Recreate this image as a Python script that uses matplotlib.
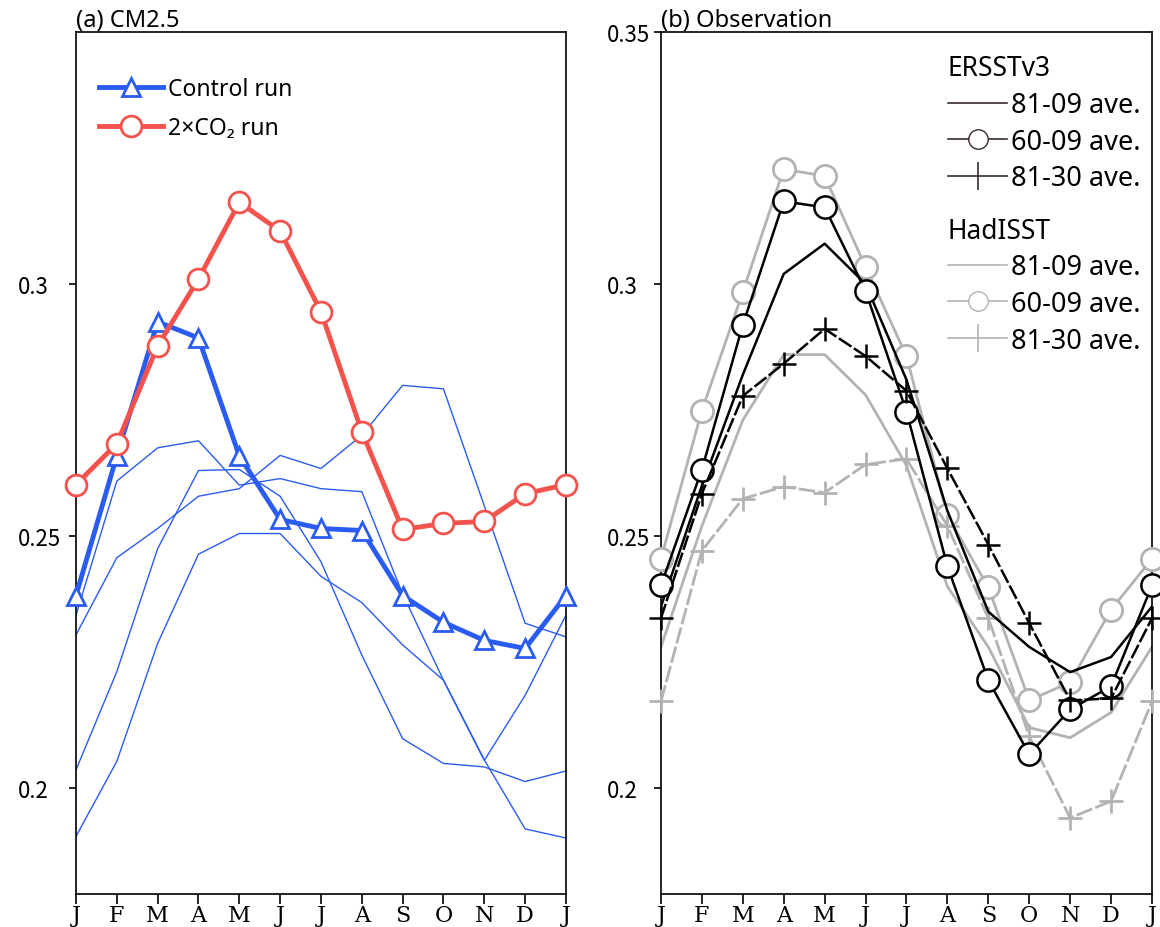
import numpy as np
import matplotlib
matplotlib.use("Agg")
import matplotlib.pyplot as plt
from matplotlib.lines import Line2D

# ---- data -------------------------------------------------------------
months = ["J", "F", "M", "A", "M", "J", "J", "A", "S", "O", "N", "D", "J"]

# (a) CM2.5
control_run = [0.2382, 0.2659, 0.2925, 0.2893, 0.2659, 0.2533, 0.2515, 0.2511,
               0.2382, 0.2329, 0.2293, 0.2277, 0.2382]
co2_run = [0.2602, 0.2683, 0.2877, 0.3010, 0.3162, 0.3105, 0.2945, 0.2707,
           0.2513, 0.2525, 0.2529, 0.2584, 0.2602]
member_1 = [0.2343, 0.2609, 0.2675, 0.2689, 0.2601, 0.2614, 0.2594, 0.2588,
            0.2385, 0.2214, 0.2055, 0.2184, 0.2343]
member_2 = [0.2304, 0.2457, 0.2515, 0.2579, 0.2594, 0.2660, 0.2634, 0.2700,
            0.2799, 0.2792, 0.2560, 0.2327, 0.2300]
member_3 = [0.2036, 0.2231, 0.2475, 0.2630, 0.2632, 0.2579, 0.2449, 0.2264,
            0.2098, 0.2049, 0.2042, 0.2013, 0.2034]
member_4 = [0.1904, 0.2053, 0.2287, 0.2464, 0.2505, 0.2505, 0.2420, 0.2368,
            0.2284, 0.2214, 0.2056, 0.1919, 0.1901]

# (b) Observation
ersst_8109 = [0.236, 0.260, 0.282, 0.302, 0.308, 0.300, 0.281, 0.255,
              0.235, 0.228, 0.223, 0.226, 0.236]
ersst_6009 = [0.2402, 0.2632, 0.2919, 0.3164, 0.3152, 0.2986, 0.2747, 0.2440,
              0.2214, 0.2067, 0.2156, 0.2202, 0.2402]
ersst_8130 = [0.2337, 0.2584, 0.2778, 0.2842, 0.2911, 0.2857, 0.2788, 0.2634,
              0.2483, 0.2327, 0.2174, 0.2178, 0.2337]
had_8109 = [0.228, 0.252, 0.273, 0.286, 0.286, 0.278, 0.264, 0.240,
            0.228, 0.212, 0.210, 0.215, 0.228]
had_6009 = [0.2455, 0.2749, 0.2984, 0.3228, 0.3214, 0.3034, 0.2857, 0.2541,
            0.2398, 0.2174, 0.2210, 0.2354, 0.2455]
had_8130 = [0.2172, 0.2471, 0.2574, 0.2598, 0.2586, 0.2642, 0.2653, 0.2520,
            0.2337, 0.2103, 0.1941, 0.1974, 0.2172]

# ---- style ------------------------------------------------------------
plt.rcParams['font.family'] = ['Noto Sans', 'DejaVu Sans']
BLUE = '#2b5cf2'
RED = '#f4524c'
GRAY = '#b3b3b3'
DARK = '#3a2a2a'
x = np.arange(len(months))

fig = plt.figure(figsize=(11.6, 9.28), dpi=100)
ax1 = fig.add_axes([0.0655, 0.0356, 0.4224, 0.9289])
ax2 = fig.add_axes([0.5698, 0.0356, 0.4233, 0.9289])

# ---- (a) ----------------------------------------------------------------
for m in [member_1, member_2, member_3, member_4]:
    ax1.plot(x, m, color=BLUE, lw=1.0, zorder=2)
ax1.plot(x, control_run, color=BLUE, lw=3.5, marker='^', ms=13, mfc='white',
         mec=BLUE, mew=2, label='Control run', zorder=4, clip_on=False)
ax1.plot(x, co2_run, color=RED, lw=3.5, marker='o', ms=15, mfc='white',
         mec=RED, mew=2, label='2×CO₂ run', zorder=5, clip_on=False)
ax1.legend(loc='upper left', bbox_to_anchor=(0.005, 0.972), frameon=False,
           fontsize=16.5, handlelength=2.8, handletextpad=0.2, labelspacing=0.65)
ax1.set_title('(a) CM2.5', loc='left', fontsize=17, pad=2)

# ---- (b) ----------------------------------------------------------------
dash = (0, (6, 1.2))
ax2.plot(x, had_8109, color=GRAY, lw=2.0, zorder=2)
ax2.plot(x, had_6009, color=GRAY, lw=2.0, marker='o', ms=16, mfc='white',
         mec=GRAY, mew=2, zorder=3, clip_on=False)
ax2.plot(x, had_8130, color=GRAY, lw=2.0, ls=dash, marker='+', ms=17, mew=2,
         zorder=3, clip_on=False)
ax2.plot(x, ersst_8109, color='black', lw=1.8, zorder=4)
ax2.plot(x, ersst_6009, color='black', lw=1.8, marker='o', ms=16, mfc='white',
         mec='black', mew=1.8, zorder=5, clip_on=False)
ax2.plot(x, ersst_8130, color='black', lw=1.8, ls=dash, marker='+', ms=17,
         mew=1.8, zorder=5, clip_on=False)

ersst_handles = [Line2D([], [], color=DARK, lw=1.2),
                 Line2D([], [], color=DARK, lw=1.2, marker='o', ms=14, mfc='white', mec=DARK),
                 Line2D([], [], color=DARK, lw=1.2, marker='|', ms=20, mew=1.2)]
had_handles = [Line2D([], [], color=GRAY, lw=1.2),
               Line2D([], [], color=GRAY, lw=1.2, marker='o', ms=14, mfc='white', mec=GRAY),
               Line2D([], [], color=GRAY, lw=1.2, marker='|', ms=20, mew=1.2)]
labels = ['81-09 ave.', '60-09 ave.', '81-30 ave.']
legend_kw = dict(loc='upper left', frameon=False, fontsize=19.5,
                 title_fontsize=19, handlelength=2.2, handletextpad=0.15,
                 labelspacing=0.32, alignment='left', borderpad=0.3)
leg1 = ax2.legend(ersst_handles, labels, title='ERSSTv3',
                  bbox_to_anchor=(0.54, 0.999), **legend_kw)
ax2.add_artist(leg1)
ax2.legend(had_handles, labels, title='HadISST',
           bbox_to_anchor=(0.54, 0.811), **legend_kw)
ax2.set_title('(b) Observation', loc='left', fontsize=17, pad=2)

# ---- axes ---------------------------------------------------------------
for ax in (ax1, ax2):
    ax.set_xlim(0, 12)
    ax.set_ylim(0.179, 0.35)
    ax.set_xticks(x)
    ax.set_xticklabels(months, fontfamily='DejaVu Serif', fontsize=16)
    ax.tick_params(axis='x', direction='out', length=7, width=1.2, pad=0)
    ax.tick_params(axis='y', direction='out', length=5, width=1.2, labelsize=16)
    for s in ax.spines.values():
        s.set_linewidth(1.2)

ax1.set_yticks([0.2, 0.25, 0.3])
ax1.set_yticklabels(['0.2', '0.25', '0.3'], fontfamily='Noto Sans CJK JP')
ax2.set_yticks([0.2, 0.25, 0.3, 0.35])
ax2.set_yticklabels(['0.2', '0.25', '0.3', '0.35'], fontfamily='Noto Sans CJK JP')
for lab in ax1.get_yticklabels():
    lab.set_horizontalalignment('left')
for lab in ax2.get_yticklabels():
    lab.set_horizontalalignment('left')
ax1.tick_params(axis='y', pad=37)
ax2.tick_params(axis='y', pad=34)

fig.savefig('out.png', dpi=100)
